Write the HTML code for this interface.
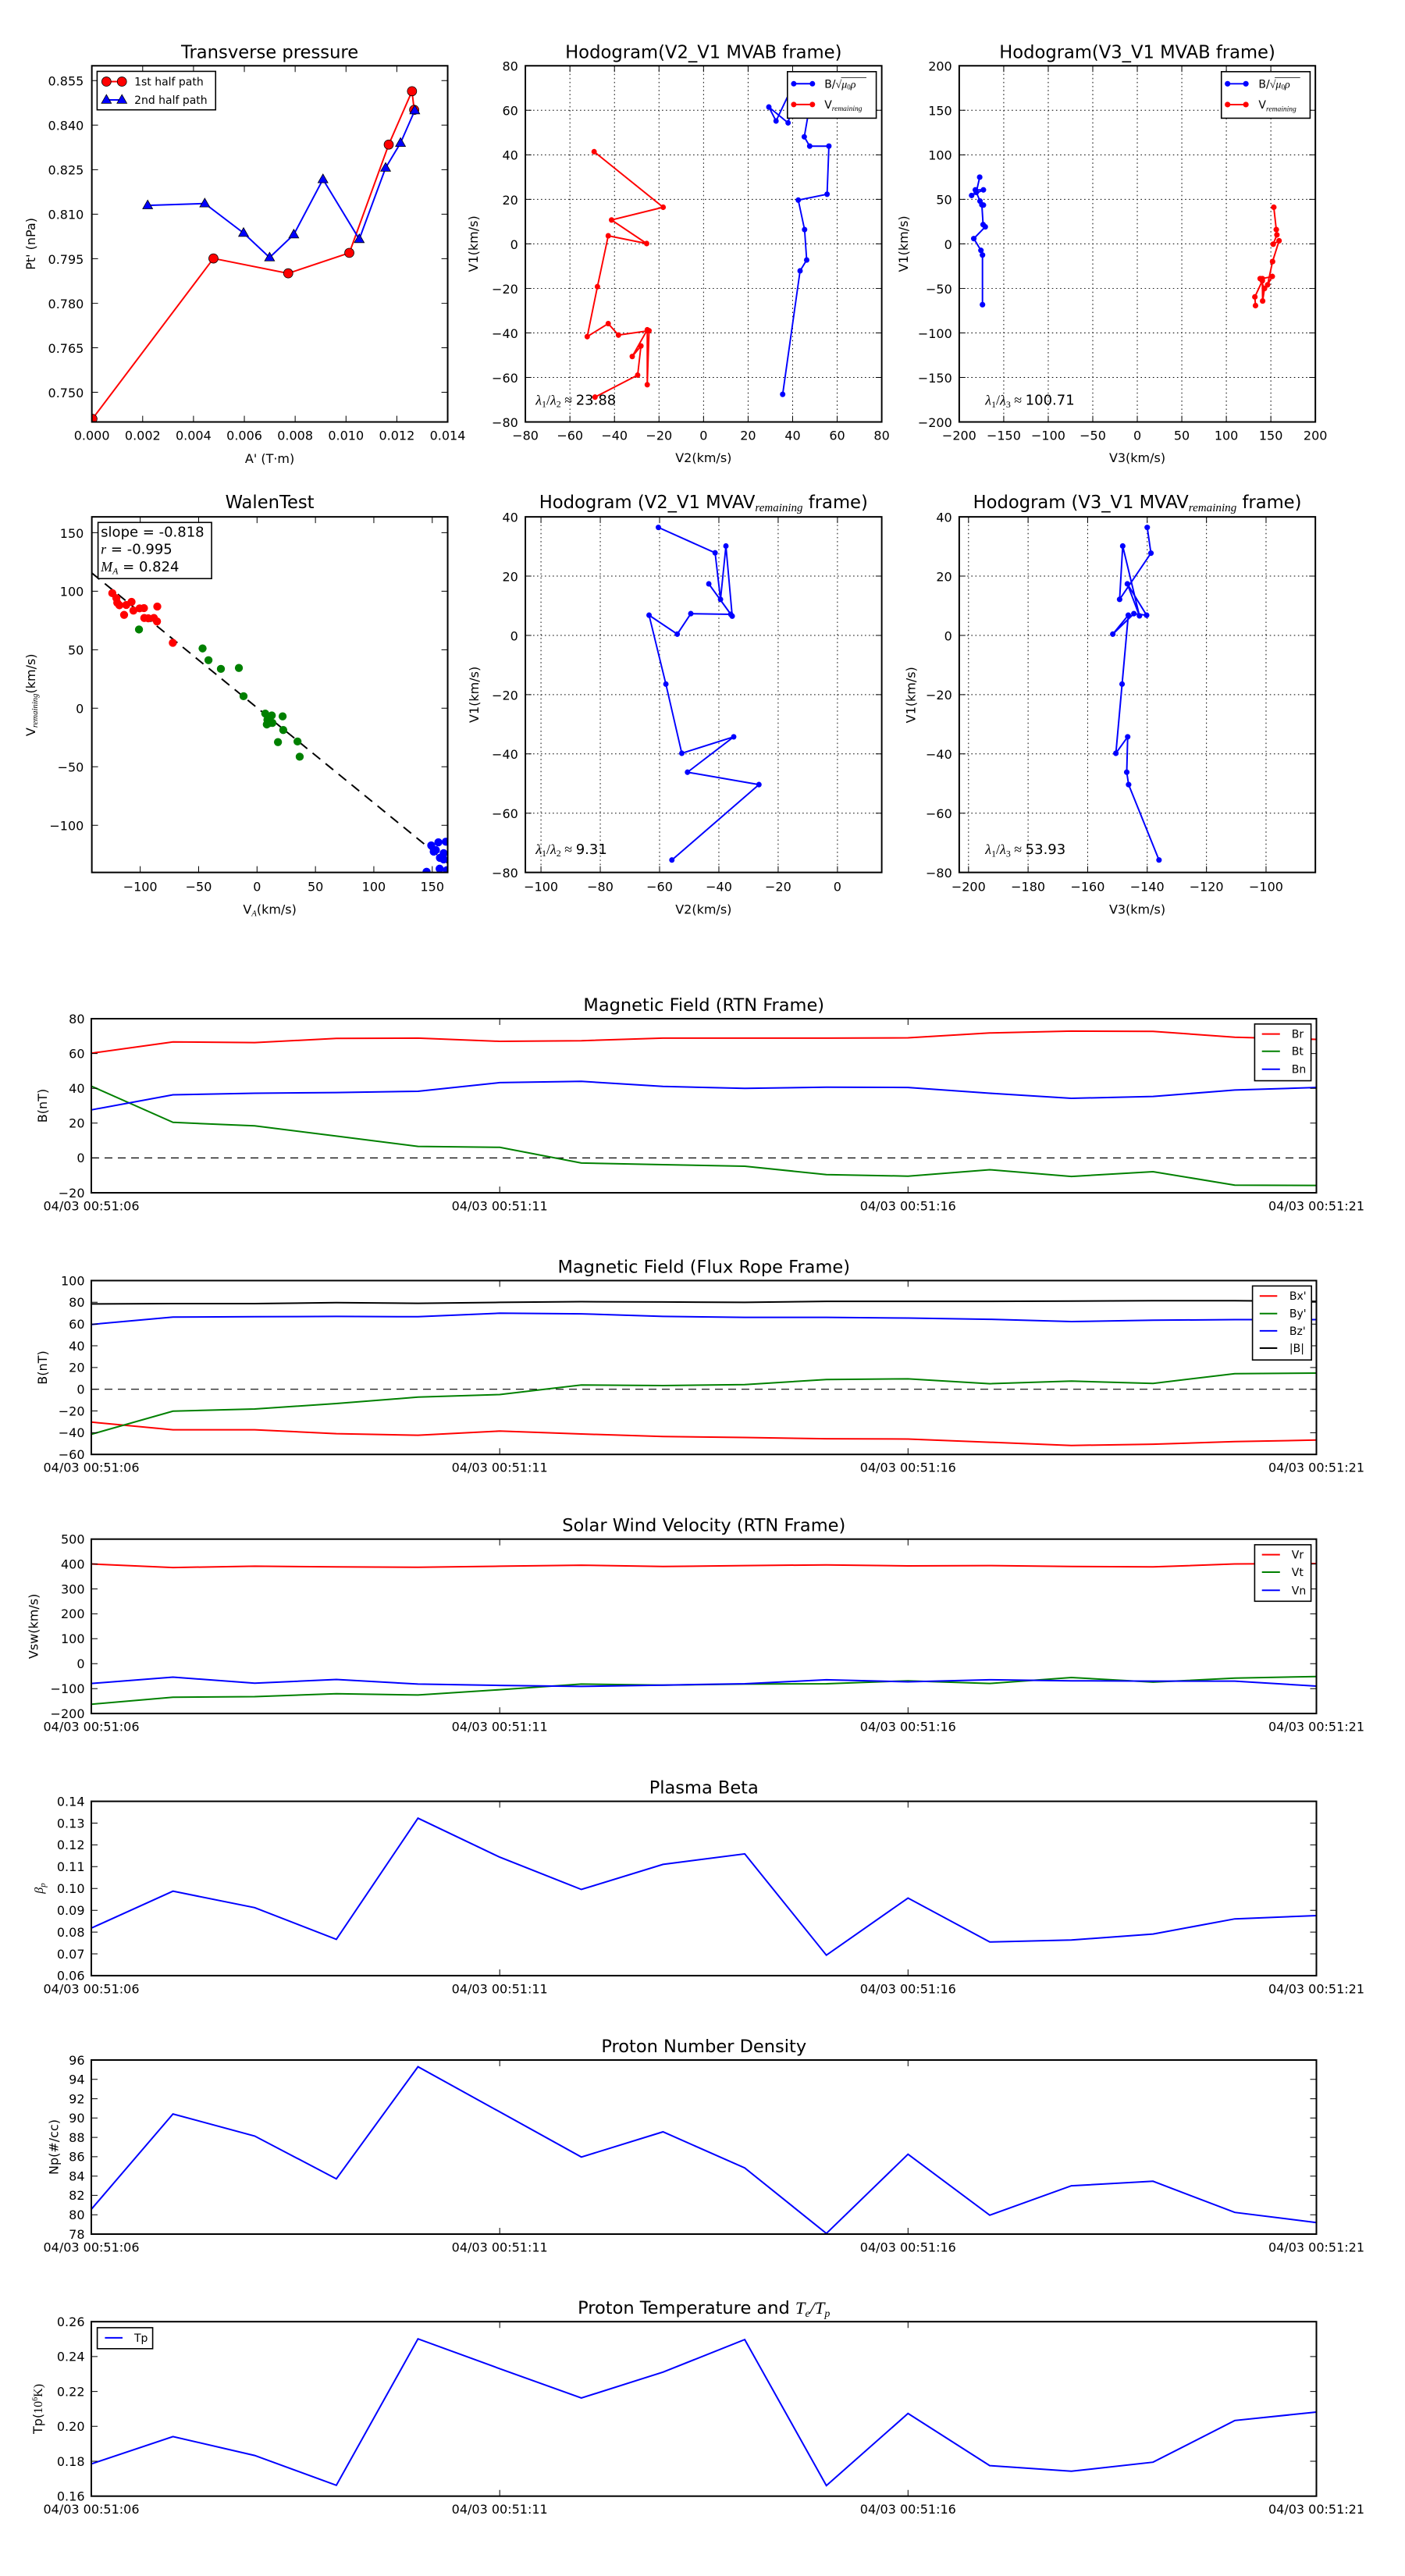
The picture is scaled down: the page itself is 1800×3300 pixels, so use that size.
<!DOCTYPE html>
<html><head><meta charset="utf-8"><style>
html,body{margin:0;padding:0;background:#fff;}
svg{display:block;}
text{font-family:"DejaVu Sans","Liberation Sans",sans-serif;fill:#000;}
.m{font-family:"Liberation Serif","DejaVu Serif",serif;font-style:italic;}
.s{font-family:"Liberation Serif","DejaVu Serif",serif;}
</style></head><body>
<svg width="1800" height="3300" viewBox="0 0 1800 3300" xmlns="http://www.w3.org/2000/svg">
<defs>
<path id="tri" d="M0 -17L-16 11L16 11Z"/>
<clipPath id="cA"><rect x="296" y="212" width="1147" height="1148"/></clipPath>
<clipPath id="cB"><rect x="216" y="212" width="1187" height="1148"/></clipPath>
<clipPath id="cC"><rect x="123" y="212" width="1148" height="1148"/></clipPath>
<clipPath id="cD"><rect x="296" y="106" width="1147" height="1146"/></clipPath>
<clipPath id="cE"><rect x="216" y="106" width="1187" height="1146"/></clipPath>
<clipPath id="cF"><rect x="123" y="106" width="1148" height="1146"/></clipPath>
</defs>
<rect width="1800" height="3300" fill="#fff"/>

<!-- ========== Panel A: Transverse pressure ========== -->
<g transform="scale(0.39746)">
<g clip-path="url(#cA)">
<polyline points="298,1350 688,833 929,881 1126,815 1253,466 1328,294 1335,354" fill="none" stroke="#f00" stroke-width="5"/>
<g fill="#f00" stroke="#000" stroke-width="2">
<circle cx="298" cy="1350" r="15"/><circle cx="688" cy="833" r="15"/><circle cx="929" cy="881" r="15"/><circle cx="1126" cy="815" r="15"/><circle cx="1253" cy="466" r="15"/><circle cx="1328" cy="294" r="15"/><circle cx="1335" cy="354" r="15"/>
</g>
<polyline points="476,662 660,656 785,751 869,830 947,756 1041,578 1158,771 1243,541 1291,461 1337,356" fill="none" stroke="#00f" stroke-width="5"/>
<g fill="#00f" stroke="#000" stroke-width="2">
<use href="#tri" x="476" y="662"/><use href="#tri" x="660" y="656"/><use href="#tri" x="785" y="751"/><use href="#tri" x="869" y="830"/><use href="#tri" x="947" y="756"/><use href="#tri" x="1041" y="578"/><use href="#tri" x="1158" y="771"/><use href="#tri" x="1243" y="541"/><use href="#tri" x="1291" y="461"/><use href="#tri" x="1337" y="356"/>
</g>
</g>
<rect x="296" y="212" width="1147" height="1148" fill="none" stroke="#000" stroke-width="5"/>
<path stroke="#000" stroke-width="2.5" fill="none" d="M459.9 1360v-20M623.7 1360v-20M787.6 1360v-20M951.4 1360v-20M1115.3 1360v-20M1279.1 1360v-20M459.9 212v20M623.7 212v20M787.6 212v20M951.4 212v20M1115.3 212v20M1279.1 212v20M296 259.8h20M296 403.3h20M296 546.8h20M296 690.3h20M296 833.8h20M296 977.3h20M296 1120.8h20M296 1264.3h20M1443 259.8h-20M1443 403.3h-20M1443 546.8h-20M1443 690.3h-20M1443 833.8h-20M1443 977.3h-20M1443 1120.8h-20M1443 1264.3h-20"/>
<g font-size="40.25" text-anchor="end">
<text x="270" y="275.8">0.855</text><text x="270" y="419.3">0.840</text><text x="270" y="562.8">0.825</text><text x="270" y="706.3">0.810</text><text x="270" y="849.8">0.795</text><text x="270" y="993.3">0.780</text><text x="270" y="1136.8">0.765</text><text x="270" y="1280.3">0.750</text>
</g>
<g font-size="40.25" text-anchor="middle">
<text x="296" y="1418">0.000</text><text x="459.9" y="1418">0.002</text><text x="623.7" y="1418">0.004</text><text x="787.6" y="1418">0.006</text><text x="951.4" y="1418">0.008</text><text x="1115.3" y="1418">0.010</text><text x="1279.1" y="1418">0.012</text><text x="1443" y="1418">0.014</text>
<text x="869.5" y="187" font-size="57">Transverse pressure</text>
<text x="869.5" y="1492">A' (T·m)</text>
<text x="0" y="0" transform="translate(113,786) rotate(-90)">Pt' (nPa)</text>
</g>
<rect x="313" y="230" width="382" height="124" fill="#fff" stroke="#000" stroke-width="4"/>
<line x1="343" y1="263" x2="393" y2="263" stroke="#f00" stroke-width="5"/>
<g fill="#f00" stroke="#000" stroke-width="2"><circle cx="343" cy="263" r="15"/><circle cx="393" cy="263" r="15"/></g>
<line x1="343" y1="322" x2="393" y2="322" stroke="#00f" stroke-width="5"/>
<g fill="#00f" stroke="#000" stroke-width="2"><use href="#tri" x="343" y="322"/><use href="#tri" x="393" y="322"/></g>
<text x="433" y="276" font-size="35.2">1st half path</text>
<text x="433" y="334" font-size="35.2">2nd half path</text>
</g>

<!-- ========== Panel B: Hodogram V2_V1 MVAB ========== -->
<g transform="translate(590,0) scale(0.38462,0.39746)">
<path stroke="#000" stroke-width="2.5" stroke-dasharray="4 9" fill="none" d="M364.4 212V1360M512.8 212V1360M661.1 212V1360M809.5 212V1360M957.9 212V1360M1106.3 212V1360M1254.6 212V1360M216 355.5H1403M216 499H1403M216 642.5H1403M216 786H1403M216 929.5H1403M216 1073H1403M216 1216.5H1403"/>
<g clip-path="url(#cB)">
<polyline points="1073,1271 1131,873 1153,838 1146,740 1125,645 1221,626 1227,471 1163,471 1145,441 1165,330 1100,360 1091,396 1027,345 1051,390 1100,290" fill="none" stroke="#00f" stroke-width="5"/>
<g fill="#00f">
<circle cx="1073" cy="1271" r="9"/><circle cx="1131" cy="873" r="9"/><circle cx="1153" cy="838" r="9"/><circle cx="1146" cy="740" r="9"/><circle cx="1125" cy="645" r="9"/><circle cx="1221" cy="626" r="9"/><circle cx="1227" cy="471" r="9"/><circle cx="1163" cy="471" r="9"/><circle cx="1145" cy="441" r="9"/><circle cx="1091" cy="396" r="9"/><circle cx="1027" cy="345" r="9"/><circle cx="1051" cy="390" r="9"/>
</g>
<polyline points="445,489 675,668 503,709 620,785 492,760 456,924 422,1085 492,1043 526,1080 628,1066 622,1240 622,1063 572,1149 601,1115 590,1209 448,1280" fill="none" stroke="#f00" stroke-width="5"/>
<g fill="#f00">
<circle cx="445" cy="489" r="9"/><circle cx="675" cy="668" r="9"/><circle cx="503" cy="709" r="9"/><circle cx="620" cy="785" r="9"/><circle cx="492" cy="760" r="9"/><circle cx="456" cy="924" r="9"/><circle cx="422" cy="1085" r="9"/><circle cx="492" cy="1043" r="9"/><circle cx="526" cy="1080" r="9"/><circle cx="628" cy="1066" r="9"/><circle cx="622" cy="1240" r="9"/><circle cx="622" cy="1063" r="9"/><circle cx="572" cy="1149" r="9"/><circle cx="601" cy="1115" r="9"/><circle cx="590" cy="1209" r="9"/><circle cx="448" cy="1280" r="9"/>
</g>
</g>
<rect x="216" y="212" width="1187" height="1148" fill="none" stroke="#000" stroke-width="5"/>
<path stroke="#000" stroke-width="2.5" fill="none" d="M364.4 1360v-20M512.8 1360v-20M661.1 1360v-20M809.5 1360v-20M957.9 1360v-20M1106.3 1360v-20M1254.6 1360v-20M364.4 212v20M512.8 212v20M661.1 212v20M809.5 212v20M957.9 212v20M1106.3 212v20M1254.6 212v20M216 355.5h20M216 499h20M216 642.5h20M216 786h20M216 929.5h20M216 1073h20M216 1216.5h20M1403 355.5h-20M1403 499h-20M1403 642.5h-20M1403 786h-20M1403 929.5h-20M1403 1073h-20M1403 1216.5h-20"/>
</g>
<g font-size="16" text-anchor="end">
<text x="663.8" y="90.7">80</text><text x="663.8" y="147.7">60</text><text x="663.8" y="204.7">40</text><text x="663.8" y="261.8">20</text><text x="663.8" y="318.8">0</text><text x="663.8" y="375.8">−20</text><text x="663.8" y="432.9">−40</text><text x="663.8" y="489.9">−60</text><text x="663.8" y="546.9">−80</text>
</g>
<g font-size="16" text-anchor="middle">
<text x="673.1" y="563.6">−80</text><text x="730.2" y="563.6">−60</text><text x="787.2" y="563.6">−40</text><text x="844.3" y="563.6">−20</text><text x="901.3" y="563.6">0</text><text x="958.4" y="563.6">20</text><text x="1015.5" y="563.6">40</text><text x="1072.5" y="563.6">60</text><text x="1129.6" y="563.6">80</text>
<text x="901.3" y="74.3" font-size="22.7">Hodogram(V2_V1 MVAB frame)</text>
<text x="901.3" y="592.2">V2(km/s)</text>
<text x="0" y="0" transform="translate(612,312.4) rotate(-90)">V1(km/s)</text>
</g>
<rect x="1008.8" y="91.8" width="113.8" height="59.6" fill="#fff" stroke="#000" stroke-width="1.6"/>
<line x1="1016.9" y1="107.3" x2="1040.8" y2="107.3" stroke="#00f" stroke-width="2"/>
<circle cx="1016.9" cy="107.3" r="3.5" fill="#00f"/><circle cx="1040.8" cy="107.3" r="3.5" fill="#00f"/>
<line x1="1016.9" y1="133.9" x2="1040.8" y2="133.9" stroke="#f00" stroke-width="2"/>
<circle cx="1016.9" cy="133.9" r="3.5" fill="#f00"/><circle cx="1040.8" cy="133.9" r="3.5" fill="#f00"/>
<text x="1056.2" y="112.5" font-size="14">B/<tspan class="s">√</tspan><tspan class="m">μ</tspan><tspan class="s" font-size="9" dy="2">0</tspan><tspan class="m" dy="-2">ρ</tspan></text>
<line x1="1077.5" y1="99.4" x2="1110" y2="99.4" stroke="#000" stroke-width="0.8"/>
<text x="1056.2" y="139.1" font-size="14">V<tspan class="m" font-size="9.5" dy="3">remaining</tspan></text>
<text x="686.2" y="518.7" font-size="18"><tspan class="m">λ</tspan><tspan class="s" font-size="12" dy="3">1</tspan><tspan class="s" dy="-3">/</tspan><tspan class="m">λ</tspan><tspan class="s" font-size="12" dy="3">2</tspan><tspan class="s" dy="-3"> ≈ </tspan>23.88</text>

<!-- ========== Panel C: Hodogram V3_V1 MVAB ========== -->
<g transform="translate(1180,0) scale(0.39746)">
<path stroke="#000" stroke-width="2.5" stroke-dasharray="4 9" fill="none" d="M266.5 212V1360M410 212V1360M553.5 212V1360M697 212V1360M840.5 212V1360M984 212V1360M1127.5 212V1360M123 355.5H1271M123 499H1271M123 642.5H1271M123 786H1271M123 929.5H1271M123 1073H1271M123 1216.5H1271"/>
<g clip-path="url(#cC)">
<polyline points="198,982 198,822 193,807 170,769 207,731 200,724 196,660 201,661 190,648 175,612 201,612 163,630 178,620 189,571" fill="none" stroke="#00f" stroke-width="5"/>
<g fill="#00f">
<circle cx="198" cy="982" r="9"/><circle cx="198" cy="822" r="9"/><circle cx="193" cy="807" r="9"/><circle cx="170" cy="769" r="9"/><circle cx="207" cy="731" r="9"/><circle cx="200" cy="724" r="9"/><circle cx="196" cy="660" r="9"/><circle cx="201" cy="661" r="9"/><circle cx="190" cy="648" r="9"/><circle cx="175" cy="612" r="9"/><circle cx="201" cy="612" r="9"/><circle cx="163" cy="630" r="9"/><circle cx="178" cy="620" r="9"/><circle cx="189" cy="571" r="9"/>
</g>
<polyline points="1137,668 1145,740 1147,757 1135,787 1154,776 1133,843 1117,918 1132,891 1100,898 1093,898 1107,930 1101,970 1100,905 1076,957 1078,985" fill="none" stroke="#f00" stroke-width="5"/>
<g fill="#f00">
<circle cx="1137" cy="668" r="9"/><circle cx="1145" cy="740" r="9"/><circle cx="1147" cy="757" r="9"/><circle cx="1135" cy="787" r="9"/><circle cx="1154" cy="776" r="9"/><circle cx="1133" cy="843" r="9"/><circle cx="1117" cy="918" r="9"/><circle cx="1132" cy="891" r="9"/><circle cx="1100" cy="898" r="9"/><circle cx="1093" cy="898" r="9"/><circle cx="1107" cy="930" r="9"/><circle cx="1101" cy="970" r="9"/><circle cx="1100" cy="905" r="9"/><circle cx="1076" cy="957" r="9"/><circle cx="1078" cy="985" r="9"/>
</g>
</g>
<rect x="123" y="212" width="1148" height="1148" fill="none" stroke="#000" stroke-width="5"/>
<path stroke="#000" stroke-width="2.5" fill="none" d="M266.5 1360v-20M410 1360v-20M553.5 1360v-20M697 1360v-20M840.5 1360v-20M984 1360v-20M1127.5 1360v-20M266.5 212v20M410 212v20M553.5 212v20M697 212v20M840.5 212v20M984 212v20M1127.5 212v20M123 355.5h20M123 499h20M123 642.5h20M123 786h20M123 929.5h20M123 1073h20M123 1216.5h20M1271 355.5h-20M1271 499h-20M1271 642.5h-20M1271 786h-20M1271 929.5h-20M1271 1073h-20M1271 1216.5h-20"/>
<g font-size="40.25" text-anchor="end">
<text x="100" y="228">200</text><text x="100" y="371.5">150</text><text x="100" y="515">100</text><text x="100" y="658.5">50</text><text x="100" y="802">0</text><text x="100" y="945.5">−50</text><text x="100" y="1089">−100</text><text x="100" y="1232.5">−150</text><text x="100" y="1376">−200</text>
</g>
<g font-size="40.25" text-anchor="middle">
<text x="123" y="1418">−200</text><text x="266.5" y="1418">−150</text><text x="410" y="1418">−100</text><text x="553.5" y="1418">−50</text><text x="697" y="1418">0</text><text x="840.5" y="1418">50</text><text x="984" y="1418">100</text><text x="1127.5" y="1418">150</text><text x="1271" y="1418">200</text>
<text x="697" y="187" font-size="57">Hodogram(V3_V1 MVAB frame)</text>
<text x="697" y="1490">V3(km/s)</text>
<text x="0" y="0" transform="translate(-43,786) rotate(-90)">V1(km/s)</text>
</g>
<rect x="968" y="231" width="286" height="150" fill="#fff" stroke="#000" stroke-width="4"/>
<line x1="988" y1="270" x2="1047" y2="270" stroke="#00f" stroke-width="5"/>
<circle cx="988" cy="270" r="9" fill="#00f"/><circle cx="1047" cy="270" r="9" fill="#00f"/>
<line x1="988" y1="337" x2="1047" y2="337" stroke="#f00" stroke-width="5"/>
<circle cx="988" cy="337" r="9" fill="#f00"/><circle cx="1047" cy="337" r="9" fill="#f00"/>
<text x="1088" y="283" font-size="35.2">B/<tspan class="s">√</tspan><tspan class="m">μ</tspan><tspan class="s" font-size="23" dy="5">0</tspan><tspan class="m" dy="-5">ρ</tspan></text>
<line x1="1140" y1="250" x2="1222" y2="250" stroke="#000" stroke-width="2"/>
<text x="1088" y="350" font-size="35.2">V<tspan class="m" font-size="24" dy="8">remaining</tspan></text>
<text x="207" y="1305" font-size="45.3"><tspan class="m">λ</tspan><tspan class="s" font-size="30" dy="8">1</tspan><tspan class="s" dy="-8">/</tspan><tspan class="m">λ</tspan><tspan class="s" font-size="30" dy="8">3</tspan><tspan class="s" dy="-8"> ≈ </tspan>100.71</text>
</g>

<!-- ========== Panel D: WalenTest ========== -->
<g transform="translate(0,620) scale(0.39746)">
<g clip-path="url(#cD)">
<line x1="296" y1="287" x2="1443" y2="1222" stroke="#000" stroke-width="5" stroke-dasharray="32 22"/>
<g fill="#f00">
<circle cx="362" cy="352" r="13"/><circle cx="375" cy="368" r="13"/><circle cx="378" cy="383" r="13"/><circle cx="385" cy="391" r="13"/><circle cx="400" cy="422" r="13"/><circle cx="407" cy="390" r="13"/><circle cx="424" cy="380" r="13"/><circle cx="430" cy="408" r="13"/><circle cx="450" cy="401" r="13"/><circle cx="464" cy="400" r="13"/><circle cx="465" cy="432" r="13"/><circle cx="478" cy="433" r="13"/><circle cx="496" cy="432" r="13"/><circle cx="506" cy="443" r="13"/><circle cx="507" cy="395" r="13"/><circle cx="557" cy="512" r="13"/>
</g>
<g fill="#008000">
<circle cx="448" cy="469" r="13"/><circle cx="653" cy="530" r="13"/><circle cx="672" cy="568" r="13"/><circle cx="712" cy="596" r="13"/><circle cx="770" cy="593" r="13"/><circle cx="785" cy="684" r="13"/><circle cx="855" cy="740" r="13"/><circle cx="876" cy="746" r="13"/><circle cx="862" cy="760" r="13"/><circle cx="870" cy="770" r="13"/><circle cx="860" cy="775" r="13"/><circle cx="878" cy="770" r="13"/><circle cx="911" cy="749" r="13"/><circle cx="913" cy="793" r="13"/><circle cx="896" cy="832" r="13"/><circle cx="959" cy="830" r="13"/><circle cx="966" cy="879" r="13"/>
</g>
<g fill="#00f">
<circle cx="1390" cy="1165" r="13"/><circle cx="1398" cy="1185" r="13"/><circle cx="1413" cy="1155" r="13"/><circle cx="1437" cy="1153" r="13"/><circle cx="1430" cy="1190" r="13"/><circle cx="1418" cy="1205" r="13"/><circle cx="1430" cy="1210" r="13"/><circle cx="1417" cy="1240" r="13"/><circle cx="1375" cy="1250" r="13"/><circle cx="1440" cy="1245" r="13"/><circle cx="1405" cy="1180" r="13"/>
</g>
</g>
<rect x="296" y="106" width="1147" height="1146" fill="none" stroke="#000" stroke-width="5"/>
<path stroke="#000" stroke-width="2.5" fill="none" d="M452 1252v-20M640.3 1252v-20M828.5 1252v-20M1016.8 1252v-20M1205 1252v-20M1393.3 1252v-20M452 106v20M640.3 106v20M828.5 106v20M1016.8 106v20M1205 106v20M1393.3 106v20M296 157h20M296 345.6h20M296 534.2h20M296 722.8h20M296 911.4h20M296 1100h20M1443 157h-20M1443 345.6h-20M1443 534.2h-20M1443 722.8h-20M1443 911.4h-20M1443 1100h-20"/>
<g font-size="40.25" text-anchor="end">
<text x="270" y="173">150</text><text x="270" y="361.6">100</text><text x="270" y="550.2">50</text><text x="270" y="738.8">0</text><text x="270" y="927.4">−50</text><text x="270" y="1116">−100</text>
</g>
<g font-size="40.25" text-anchor="middle">
<text x="452" y="1312">−100</text><text x="640.3" y="1312">−50</text><text x="828.5" y="1312">0</text><text x="1016.8" y="1312">50</text><text x="1205" y="1312">100</text><text x="1393.3" y="1312">150</text>
<text x="869.5" y="78" font-size="57">WalenTest</text>
<text x="869.5" y="1385">V<tspan class="m" font-size="27" dy="8">A</tspan><tspan dy="-8">(km/s)</tspan></text>
<text x="0" y="0" transform="translate(113,680) rotate(-90)">V<tspan class="m" font-size="27" dy="8">remaining</tspan><tspan dy="-8">(km/s)</tspan></text>
</g>
<rect x="316" y="124" width="366" height="181" fill="#fff" stroke="#000" stroke-width="4"/>
<g font-size="45.3">
<text x="325" y="170">slope = -0.818</text>
<text x="325" y="225"><tspan class="m">r</tspan> = -0.995</text>
<text x="325" y="282"><tspan class="m">M</tspan><tspan class="m" font-size="30" dy="8">A</tspan><tspan dy="-8"> = 0.824</tspan></text>
</g>
</g>

<!-- ========== Panel E: Hodogram V2_V1 MVAV ========== -->
<g transform="translate(590,620) scale(0.38462,0.39746)">
<path stroke="#000" stroke-width="2.5" stroke-dasharray="4 9" fill="none" d="M268 106V1252M465.5 106V1252M663 106V1252M860.5 106V1252M1058 106V1252M1255.5 106V1252M216 297H1403M216 488H1403M216 679H1403M216 870H1403M216 1061H1403"/>
<g clip-path="url(#cE)">
<polyline points="659,140 848,222 866,372 884,200 905,426 827,322 900,420 767,418 722,484 628,423 684,645 737,868 910,815 756,929 994,969 704,1212" fill="none" stroke="#00f" stroke-width="5"/>
<g fill="#00f">
<circle cx="659" cy="140" r="9"/><circle cx="848" cy="222" r="9"/><circle cx="866" cy="372" r="9"/><circle cx="884" cy="200" r="9"/><circle cx="905" cy="426" r="9"/><circle cx="827" cy="322" r="9"/><circle cx="900" cy="420" r="9"/><circle cx="767" cy="418" r="9"/><circle cx="722" cy="484" r="9"/><circle cx="628" cy="423" r="9"/><circle cx="684" cy="645" r="9"/><circle cx="737" cy="868" r="9"/><circle cx="910" cy="815" r="9"/><circle cx="756" cy="929" r="9"/><circle cx="994" cy="969" r="9"/><circle cx="704" cy="1212" r="9"/>
</g>
</g>
<rect x="216" y="106" width="1187" height="1146" fill="none" stroke="#000" stroke-width="5"/>
<path stroke="#000" stroke-width="2.5" fill="none" d="M268 1252v-20M465.5 1252v-20M663 1252v-20M860.5 1252v-20M1058 1252v-20M1255.5 1252v-20M268 106v20M465.5 106v20M663 106v20M860.5 106v20M1058 106v20M1255.5 106v20M216 297h20M216 488h20M216 679h20M216 870h20M216 1061h20M1403 297h-20M1403 488h-20M1403 679h-20M1403 870h-20M1403 1061h-20"/>
</g>
<g font-size="16" text-anchor="end">
<text x="663.8" y="668.5">40</text><text x="663.8" y="744.4">20</text><text x="663.8" y="820.4">0</text><text x="663.8" y="896.3">−20</text><text x="663.8" y="972.2">−40</text><text x="663.8" y="1048.1">−60</text><text x="663.8" y="1124">−80</text>
</g>
<g font-size="16" text-anchor="middle">
<text x="693.1" y="1141.5">−100</text><text x="769" y="1141.5">−80</text><text x="845" y="1141.5">−60</text><text x="921" y="1141.5">−40</text><text x="996.9" y="1141.5">−20</text><text x="1072.9" y="1141.5">0</text>
<text x="901.3" y="651" font-size="22.7">Hodogram (V2_V1 MVAV<tspan class="m" font-size="15" dy="4">remaining</tspan><tspan dy="-4"> frame)</tspan></text>
<text x="901.3" y="1170.5">V2(km/s)</text>
<text x="0" y="0" transform="translate(613,889.9) rotate(-90)">V1(km/s)</text>
</g>
<text x="686.2" y="1094.2" font-size="18"><tspan class="m">λ</tspan><tspan class="s" font-size="12" dy="3">1</tspan><tspan class="s" dy="-3">/</tspan><tspan class="m">λ</tspan><tspan class="s" font-size="12" dy="3">2</tspan><tspan class="s" dy="-3"> ≈ </tspan>9.31</text>

<!-- ========== Panel F: Hodogram V3_V1 MVAV ========== -->
<g transform="translate(1180,620) scale(0.39746)">
<path stroke="#000" stroke-width="2.5" stroke-dasharray="4 9" fill="none" d="M153 106V1252M345 106V1252M537 106V1252M729 106V1252M920 106V1252M1112 106V1252M123 297H1271M123 488H1271M123 679H1271M123 870H1271M123 1061H1271"/>
<g clip-path="url(#cF)">
<polyline points="729,140 741,223 640,372 650,200 704,425 665,322 727,423 686,418 618,484 668,423 648,645 628,868 666,815 663,929 669,969 767,1212" fill="none" stroke="#00f" stroke-width="5"/>
<g fill="#00f">
<circle cx="729" cy="140" r="9"/><circle cx="741" cy="223" r="9"/><circle cx="640" cy="372" r="9"/><circle cx="650" cy="200" r="9"/><circle cx="704" cy="425" r="9"/><circle cx="665" cy="322" r="9"/><circle cx="727" cy="423" r="9"/><circle cx="686" cy="418" r="9"/><circle cx="618" cy="484" r="9"/><circle cx="668" cy="423" r="9"/><circle cx="648" cy="645" r="9"/><circle cx="628" cy="868" r="9"/><circle cx="666" cy="815" r="9"/><circle cx="663" cy="929" r="9"/><circle cx="669" cy="969" r="9"/><circle cx="767" cy="1212" r="9"/>
</g>
</g>
<rect x="123" y="106" width="1148" height="1146" fill="none" stroke="#000" stroke-width="5"/>
<path stroke="#000" stroke-width="2.5" fill="none" d="M153 1252v-20M345 1252v-20M537 1252v-20M729 1252v-20M920 1252v-20M1112 1252v-20M153 106v20M345 106v20M537 106v20M729 106v20M920 106v20M1112 106v20M123 297h20M123 488h20M123 679h20M123 870h20M123 1061h20M1271 297h-20M1271 488h-20M1271 679h-20M1271 870h-20M1271 1061h-20"/>
<g font-size="40.25" text-anchor="end">
<text x="100" y="122">40</text><text x="100" y="313">20</text><text x="100" y="504">0</text><text x="100" y="695">−20</text><text x="100" y="886">−40</text><text x="100" y="1077">−60</text><text x="100" y="1268">−80</text>
</g>
<g font-size="40.25" text-anchor="middle">
<text x="153" y="1312">−200</text><text x="345" y="1312">−180</text><text x="537" y="1312">−160</text><text x="729" y="1312">−140</text><text x="920" y="1312">−120</text><text x="1112" y="1312">−100</text>
<text x="697" y="78" font-size="57">Hodogram (V3_V1 MVAV<tspan class="m" font-size="38" dy="10">remaining</tspan><tspan dy="-10"> frame)</tspan></text>
<text x="697" y="1385">V3(km/s)</text>
<text x="0" y="0" transform="translate(-19,680) rotate(-90)">V1(km/s)</text>
</g>
<text x="207" y="1193" font-size="45.3"><tspan class="m">λ</tspan><tspan class="s" font-size="30" dy="8">1</tspan><tspan class="s" dy="-8">/</tspan><tspan class="m">λ</tspan><tspan class="s" font-size="30" dy="8">3</tspan><tspan class="s" dy="-8"> ≈ </tspan>53.93</text>
</g>

<!-- ========== Time series common ========== -->
<!-- Panel 1: Magnetic Field RTN -->
<g>
<line x1="117" y1="1483.4" x2="1686.5" y2="1483.4" stroke="#000" stroke-width="1.2" stroke-dasharray="10 7"/>
<polyline fill="none" stroke="#f00" stroke-width="2" points="117,1349.2 221.6,1334.8 326.3,1335.6 430.9,1330.3 535.5,1329.9 640.2,1334.0 744.8,1333.2 849.4,1329.9 954.1,1329.9 1058.7,1329.9 1163.3,1329.5 1268,1323.3 1372.6,1320.9 1477.2,1321.3 1581.9,1328.7 1686.5,1331.5"/>
<polyline fill="none" stroke="#008000" stroke-width="2" points="117,1391.4 221.6,1437.8 326.3,1442.3 430.9,1455.4 535.5,1468.6 640.2,1469.8 744.8,1489.9 849.4,1492.0 954.1,1494.0 1058.7,1504.7 1163.3,1506.7 1268,1498.5 1372.6,1507.1 1477.2,1501.0 1581.9,1518.2 1686.5,1518.6"/>
<polyline fill="none" stroke="#00f" stroke-width="2" points="117,1421.8 221.6,1402.5 326.3,1400.5 430.9,1399.6 535.5,1398.0 640.2,1386.9 744.8,1385.3 849.4,1391.8 954.1,1394.3 1058.7,1392.7 1163.3,1393.1 1268,1400.5 1372.6,1407.0 1477.2,1404.6 1581.9,1396.4 1686.5,1393.1"/>
<rect x="117" y="1305" width="1569.5" height="223" fill="none" stroke="#000" stroke-width="2"/>
<path stroke="#000" stroke-width="1" fill="none" d="M640.2 1528v-8M1163.3 1528v-8M640.2 1305v8M1163.3 1305v8M117 1349.6h8M117 1394.2h8M117 1438.8h8M117 1483.4h8M1686.5 1349.6h-8M1686.5 1394.2h-8M1686.5 1438.8h-8M1686.5 1483.4h-8"/>
<g font-size="16" text-anchor="end">
<text x="108.5" y="1310.8">80</text><text x="108.5" y="1355.4">60</text><text x="108.5" y="1400">40</text><text x="108.5" y="1444.6">20</text><text x="108.5" y="1489.2">0</text><text x="108.5" y="1533.8">−20</text>
</g>
<g font-size="16" text-anchor="middle">
<text x="117" y="1550.5">04/03 00:51:06</text><text x="640.2" y="1550.5">04/03 00:51:11</text><text x="1163.3" y="1550.5">04/03 00:51:16</text><text x="1686.5" y="1550.5">04/03 00:51:21</text>
<text x="901.75" y="1295" font-size="22.5">Magnetic Field (RTN Frame)</text>
<text x="0" y="0" transform="translate(60,1416.5) rotate(-90)">B(nT)</text>
</g>
<rect x="1607.4" y="1311.8" width="72.2" height="72.7" fill="#fff" stroke="#000" stroke-width="1.6"/>
<line x1="1616.7" y1="1324.6" x2="1639.8" y2="1324.6" stroke="#f00" stroke-width="2"/>
<line x1="1616.7" y1="1346.7" x2="1639.8" y2="1346.7" stroke="#008000" stroke-width="2"/>
<line x1="1616.7" y1="1369.7" x2="1639.8" y2="1369.7" stroke="#00f" stroke-width="2"/>
<g font-size="14"><text x="1654.8" y="1329.6">Br</text><text x="1654.8" y="1351.7">Bt</text><text x="1654.8" y="1374.7">Bn</text></g>
</g>

<!-- Panel 2: Flux Rope Frame -->
<g>
<line x1="117" y1="1779.7" x2="1686.5" y2="1779.7" stroke="#000" stroke-width="1.2" stroke-dasharray="10 7"/>
<polyline fill="none" stroke="#f00" stroke-width="2" points="117,1821.8 221.6,1831.6 326.3,1831.6 430.9,1836.6 535.5,1838.6 640.2,1833.3 744.8,1837.0 849.4,1840.3 954.1,1841.5 1058.7,1843.1 1163.3,1843.5 1268,1847.6 1372.6,1851.7 1477.2,1850.1 1581.9,1846.8 1686.5,1844.8"/>
<polyline fill="none" stroke="#008000" stroke-width="2" points="117,1837.4 221.6,1807.8 326.3,1805.0 430.9,1798.0 535.5,1789.8 640.2,1786.5 744.8,1774.2 849.4,1775.0 954.1,1773.8 1058.7,1767.2 1163.3,1766.4 1268,1772.6 1372.6,1769.3 1477.2,1772.2 1581.9,1759.8 1686.5,1759.0"/>
<polyline fill="none" stroke="#00f" stroke-width="2" points="117,1696.7 221.6,1687.2 326.3,1686.8 430.9,1686.4 535.5,1686.8 640.2,1682.3 744.8,1683.1 849.4,1686.4 954.1,1687.6 1058.7,1687.6 1163.3,1688.5 1268,1690.1 1372.6,1693.0 1477.2,1691.3 1581.9,1690.5 1686.5,1690.5"/>
<polyline fill="none" stroke="#000" stroke-width="2" points="117,1670.4 221.6,1670.0 326.3,1670.0 430.9,1668.8 535.5,1669.6 640.2,1668.4 744.8,1667.5 849.4,1667.9 954.1,1668.4 1058.7,1667.1 1163.3,1667.1 1268,1667.1 1372.6,1666.7 1477.2,1666.3 1581.9,1666.3 1686.5,1667.1"/>
<rect x="117" y="1640.5" width="1569.5" height="222.7" fill="none" stroke="#000" stroke-width="2"/>
<path stroke="#000" stroke-width="1" fill="none" d="M640.2 1863.2v-8M1163.3 1863.2v-8M640.2 1640.5v8M1163.3 1640.5v8M117 1668.3h8M117 1696.2h8M117 1724h8M117 1751.9h8M117 1779.7h8M117 1807.5h8M117 1835.4h8M1686.5 1668.3h-8M1686.5 1696.2h-8M1686.5 1724h-8M1686.5 1751.9h-8M1686.5 1779.7h-8M1686.5 1807.5h-8M1686.5 1835.4h-8"/>
<g font-size="16" text-anchor="end">
<text x="108.5" y="1646.3">100</text><text x="108.5" y="1674.1">80</text><text x="108.5" y="1702">60</text><text x="108.5" y="1729.8">40</text><text x="108.5" y="1757.7">20</text><text x="108.5" y="1785.5">0</text><text x="108.5" y="1813.3">−20</text><text x="108.5" y="1841.2">−40</text><text x="108.5" y="1869">−60</text>
</g>
<g font-size="16" text-anchor="middle">
<text x="117" y="1885.7">04/03 00:51:06</text><text x="640.2" y="1885.7">04/03 00:51:11</text><text x="1163.3" y="1885.7">04/03 00:51:16</text><text x="1686.5" y="1885.7">04/03 00:51:21</text>
<text x="901.75" y="1630.5" font-size="22.5">Magnetic Field (Flux Rope Frame)</text>
<text x="0" y="0" transform="translate(60,1752) rotate(-90)">B(nT)</text>
</g>
<rect x="1604.6" y="1647.4" width="75.6" height="94.8" fill="#fff" stroke="#000" stroke-width="1.6"/>
<line x1="1613.8" y1="1660.2" x2="1636.3" y2="1660.2" stroke="#f00" stroke-width="2"/>
<line x1="1613.8" y1="1682.7" x2="1636.3" y2="1682.7" stroke="#008000" stroke-width="2"/>
<line x1="1613.8" y1="1704.9" x2="1636.3" y2="1704.9" stroke="#00f" stroke-width="2"/>
<line x1="1613.8" y1="1727" x2="1636.3" y2="1727" stroke="#000" stroke-width="2"/>
<g font-size="14"><text x="1651.9" y="1665.2">Bx'</text><text x="1651.9" y="1687.7">By'</text><text x="1651.9" y="1709.9">Bz'</text><text x="1651.9" y="1732">|B|</text></g>
</g>

<!-- Panel 3: Solar Wind Velocity -->
<g>
<polyline fill="none" stroke="#f00" stroke-width="2" points="117,2003.5 221.6,2008.1 326.3,2006.4 430.9,2007.3 535.5,2007.7 640.2,2006.4 744.8,2005.1 849.4,2006.8 954.1,2005.6 1058.7,2004.7 1163.3,2006.0 1268,2005.6 1372.6,2006.8 1477.2,2007.3 1581.9,2003.5 1686.5,2003.0"/>
<polyline fill="none" stroke="#008000" stroke-width="2" points="117,2183.2 221.6,2174.3 326.3,2173.5 430.9,2169.7 535.5,2171.4 640.2,2164.6 744.8,2157.4 849.4,2158.7 954.1,2157.4 1058.7,2157.0 1163.3,2153.2 1268,2156.6 1372.6,2149.0 1477.2,2154.9 1581.9,2149.8 1686.5,2147.7"/>
<polyline fill="none" stroke="#00f" stroke-width="2" points="117,2156.6 221.6,2148.5 326.3,2156.2 430.9,2151.5 535.5,2157.4 640.2,2159.1 744.8,2160.4 849.4,2158.7 954.1,2157.0 1058.7,2151.9 1163.3,2154.5 1268,2151.9 1372.6,2153.2 1477.2,2153.6 1581.9,2153.6 1686.5,2160.0"/>
<rect x="117" y="1971.7" width="1569.5" height="223.4" fill="none" stroke="#000" stroke-width="2"/>
<path stroke="#000" stroke-width="1" fill="none" d="M640.2 2195.1v-8M1163.3 2195.1v-8M640.2 1971.7v8M1163.3 1971.7v8M117 2003.6h8M117 2035.5h8M117 2067.4h8M117 2099.3h8M117 2131.3h8M117 2163.2h8M1686.5 2003.6h-8M1686.5 2035.5h-8M1686.5 2067.4h-8M1686.5 2099.3h-8M1686.5 2131.3h-8M1686.5 2163.2h-8"/>
<g font-size="16" text-anchor="end">
<text x="108.5" y="1977.5">500</text><text x="108.5" y="2009.4">400</text><text x="108.5" y="2041.3">300</text><text x="108.5" y="2073.2">200</text><text x="108.5" y="2105.1">100</text><text x="108.5" y="2137.1">0</text><text x="108.5" y="2169">−100</text><text x="108.5" y="2200.9">−200</text>
</g>
<g font-size="16" text-anchor="middle">
<text x="117" y="2217.6">04/03 00:51:06</text><text x="640.2" y="2217.6">04/03 00:51:11</text><text x="1163.3" y="2217.6">04/03 00:51:16</text><text x="1686.5" y="2217.6">04/03 00:51:21</text>
<text x="901.75" y="1961.7" font-size="22.5">Solar Wind Velocity (RTN Frame)</text>
<text x="0" y="0" transform="translate(48.5,2083.4) rotate(-90)">Vsw(km/s)</text>
</g>
<rect x="1607.4" y="1978.9" width="72.2" height="72.4" fill="#fff" stroke="#000" stroke-width="1.6"/>
<line x1="1616.7" y1="1991.6" x2="1639.8" y2="1991.6" stroke="#f00" stroke-width="2"/>
<line x1="1616.7" y1="2014" x2="1639.8" y2="2014" stroke="#008000" stroke-width="2"/>
<line x1="1616.7" y1="2037.3" x2="1639.8" y2="2037.3" stroke="#00f" stroke-width="2"/>
<g font-size="14"><text x="1654.8" y="1996.6">Vr</text><text x="1654.8" y="2019">Vt</text><text x="1654.8" y="2042.3">Vn</text></g>
</g>

<!-- Panel 4: Plasma Beta -->
<g>
<polyline fill="none" stroke="#00f" stroke-width="2" points="117,2470.0 221.6,2422.7 326.3,2443.8 430.9,2484.4 535.5,2329.2 640.2,2379.1 744.8,2420.5 849.4,2388.4 954.1,2374.9 1058.7,2504.7 1163.3,2431.5 1268,2487.8 1372.6,2485.3 1477.2,2477.6 1581.9,2458.2 1686.5,2454.0"/>
<rect x="117" y="2307.6" width="1569.5" height="223.3" fill="none" stroke="#000" stroke-width="2"/>
<path stroke="#000" stroke-width="1" fill="none" d="M640.2 2530.9v-8M1163.3 2530.9v-8M640.2 2307.6v8M1163.3 2307.6v8M117 2335.5h8M117 2363.4h8M117 2391.3h8M117 2419.3h8M117 2447.2h8M117 2475.1h8M117 2503h8M1686.5 2335.5h-8M1686.5 2363.4h-8M1686.5 2391.3h-8M1686.5 2419.3h-8M1686.5 2447.2h-8M1686.5 2475.1h-8M1686.5 2503h-8"/>
<g font-size="16" text-anchor="end">
<text x="108.5" y="2313.4">0.14</text><text x="108.5" y="2341.3">0.13</text><text x="108.5" y="2369.2">0.12</text><text x="108.5" y="2397.1">0.11</text><text x="108.5" y="2425.1">0.10</text><text x="108.5" y="2453">0.09</text><text x="108.5" y="2480.9">0.08</text><text x="108.5" y="2508.8">0.07</text><text x="108.5" y="2536.7">0.06</text>
</g>
<g font-size="16" text-anchor="middle">
<text x="117" y="2553.4">04/03 00:51:06</text><text x="640.2" y="2553.4">04/03 00:51:11</text><text x="1163.3" y="2553.4">04/03 00:51:16</text><text x="1686.5" y="2553.4">04/03 00:51:21</text>
<text x="901.75" y="2297.6" font-size="22.5">Plasma Beta</text>
<text x="0" y="0" transform="translate(55,2419) rotate(-90)"><tspan class="m">β</tspan><tspan class="m" font-size="11" dy="3">p</tspan></text>
</g>
</g>

<!-- Panel 5: Proton Number Density -->
<g>
<polyline fill="none" stroke="#00f" stroke-width="2" points="117,2830.2 221.6,2708.1 326.3,2736.4 430.9,2791.2 535.5,2647.6 640.2,2705.4 744.8,2763.3 849.4,2731.0 954.1,2777.2 1058.7,2861.2 1163.3,2759.7 1268,2837.8 1372.6,2800.1 1477.2,2794.3 1581.9,2834.2 1686.5,2847.2"/>
<rect x="117" y="2639" width="1569.5" height="223" fill="none" stroke="#000" stroke-width="2"/>
<path stroke="#000" stroke-width="1" fill="none" d="M640.2 2862v-8M1163.3 2862v-8M640.2 2639v8M1163.3 2639v8M117 2663.8h8M117 2688.6h8M117 2713.3h8M117 2738.1h8M117 2762.9h8M117 2787.7h8M117 2812.4h8M117 2837.2h8M1686.5 2663.8h-8M1686.5 2688.6h-8M1686.5 2713.3h-8M1686.5 2738.1h-8M1686.5 2762.9h-8M1686.5 2787.7h-8M1686.5 2812.4h-8M1686.5 2837.2h-8"/>
<g font-size="16" text-anchor="end">
<text x="108.5" y="2644.8">96</text><text x="108.5" y="2669.6">94</text><text x="108.5" y="2694.4">92</text><text x="108.5" y="2719.1">90</text><text x="108.5" y="2743.9">88</text><text x="108.5" y="2768.7">86</text><text x="108.5" y="2793.5">84</text><text x="108.5" y="2818.2">82</text><text x="108.5" y="2843">80</text><text x="108.5" y="2867.8">78</text>
</g>
<g font-size="16" text-anchor="middle">
<text x="117" y="2884.5">04/03 00:51:06</text><text x="640.2" y="2884.5">04/03 00:51:11</text><text x="1163.3" y="2884.5">04/03 00:51:16</text><text x="1686.5" y="2884.5">04/03 00:51:21</text>
<text x="901.75" y="2629" font-size="22.5">Proton Number Density</text>
<text x="0" y="0" transform="translate(74.5,2750.5) rotate(-90)">Np(#/cc)</text>
</g>
</g>

<!-- Panel 6: Proton Temperature -->
<g>
<polyline fill="none" stroke="#00f" stroke-width="2" points="117,3156.4 221.6,3121.4 326.3,3145.6 430.9,3183.8 535.5,2996.2 640.2,3034.4 744.8,3072.0 849.4,3038.8 954.1,2997.1 1058.7,3184.2 1163.3,3091.8 1268,3158.6 1372.6,3165.8 1477.2,3154.2 1581.9,3100.8 1686.5,3090.0"/>
<rect x="117" y="2974.2" width="1569.5" height="223.5" fill="none" stroke="#000" stroke-width="2"/>
<path stroke="#000" stroke-width="1" fill="none" d="M640.2 3197.7v-8M1163.3 3197.7v-8M640.2 2974.2v8M1163.3 2974.2v8M117 3018.9h8M117 3063.6h8M117 3108.3h8M117 3153h8M1686.5 3018.9h-8M1686.5 3063.6h-8M1686.5 3108.3h-8M1686.5 3153h-8"/>
<g font-size="16" text-anchor="end">
<text x="108.5" y="2980">0.26</text><text x="108.5" y="3024.7">0.24</text><text x="108.5" y="3069.4">0.22</text><text x="108.5" y="3114.1">0.20</text><text x="108.5" y="3158.8">0.18</text><text x="108.5" y="3203.5">0.16</text>
</g>
<g font-size="16" text-anchor="middle">
<text x="117" y="3220.2">04/03 00:51:06</text><text x="640.2" y="3220.2">04/03 00:51:11</text><text x="1163.3" y="3220.2">04/03 00:51:16</text><text x="1686.5" y="3220.2">04/03 00:51:21</text>
<text x="901.75" y="2964" font-size="22.5">Proton Temperature and <tspan class="m">T</tspan><tspan class="m" font-size="14" dy="4">e</tspan><tspan class="m" dy="-4">/T</tspan><tspan class="m" font-size="14" dy="4">p</tspan></text>
<text x="0" y="0" transform="translate(54,3086) rotate(-90)">Tp(<tspan class="s">10</tspan><tspan class="s" font-size="10" dy="-6">6</tspan><tspan class="s" dy="6">K)</tspan></text>
</g>
<rect x="124.6" y="2981.9" width="71" height="26.9" fill="#fff" stroke="#000" stroke-width="1.6"/>
<line x1="134.4" y1="2994.9" x2="157" y2="2994.9" stroke="#00f" stroke-width="2"/>
<text x="172" y="2999.9" font-size="14">Tp</text>
</g>
</svg>
</body></html>
